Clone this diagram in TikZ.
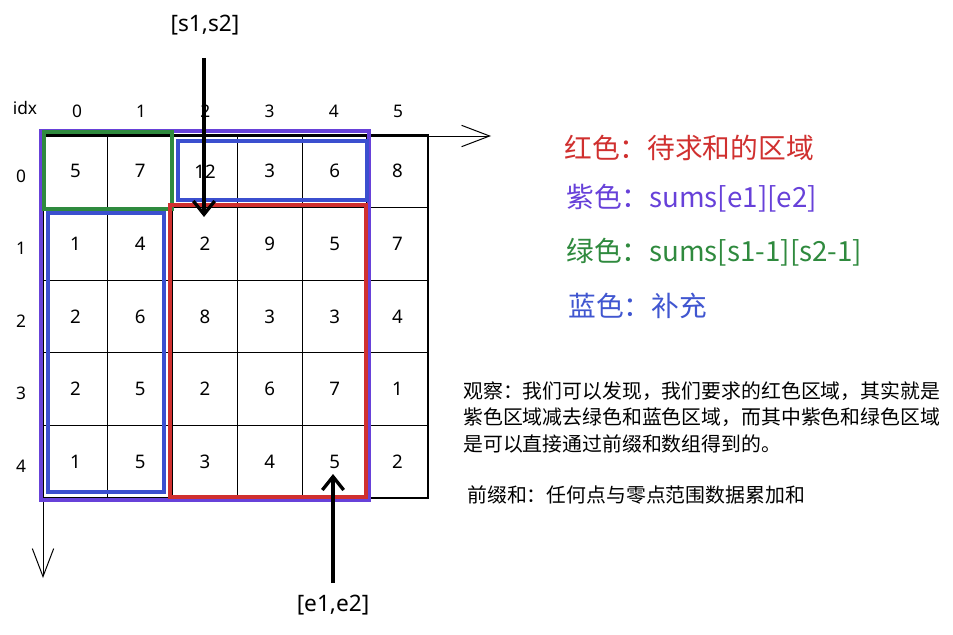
\documentclass[tikz,border=0pt]{standalone}
\usepackage{fontspec}
\setmainfont{Noto Sans}
\newfontfamily\cjk{Noto Sans CJK SC}
\usetikzlibrary{arrows.meta}
\definecolor{cred}{HTML}{D0302F}
\definecolor{cpurple}{HTML}{6741D9}
\definecolor{cgreen}{HTML}{2F8A3E}
\definecolor{cblue}{HTML}{3B4FCF}
\definecolor{tred}{HTML}{D0302F}
\definecolor{tpurple}{HTML}{6741D9}
\definecolor{tgreen}{HTML}{2F8A3E}
\definecolor{tblue}{HTML}{4056D0}
\tikzset{
  cell/.style={draw=black, line width=0.85pt, minimum height=54.45pt, inner sep=0pt, font=\fontsize{14}{16}\selectfont},
  idxlab/.style={inner sep=0pt, font=\fontsize{13}{15}\selectfont},
  axis/.style={line width=0.75pt, -{Straight Barb[length=21pt, width=16pt, line width=0.75pt]}},
  pointer/.style={line width=3pt, -{Straight Barb[length=10pt, width=16pt, line width=2.5pt]}},
  region/.style={line width=2.4pt},
  bigtxt/.style={anchor=west, inner sep=0pt, font=\cjk\fontsize{20.8}{24}\selectfont},
  bodytxt/.style={anchor=north west, inner sep=0pt, align=left, font=\cjk\fontsize{14.9}{19.9}\selectfont},
  ptrlab/.style={inner sep=0pt, font=\fontsize{17}{20}\selectfont}
}
\newcommand{\gridrow}[3]{%
  \foreach \v [count=\c from 0] in {#3} {
    \ifnum\c=5
      \node[cell, minimum width=45.75pt] (c#1\c) at (397.5,#2) {\v};
    \else
      \node[cell, minimum width=48.6pt] (c#1\c) at ({75.4+64.8*\c},#2) {\v};
    \fi
  }}
\begin{document}
\begin{tikzpicture}[x=0.75pt,y=-0.75pt]
\useasboundingbox (0,0) rectangle (953,635);
% cells
\gridrow{0}{171.3}{5,7,12,3,6,8}
\gridrow{1}{243.9}{1,4,2,9,5,7}
\gridrow{2}{316.5}{2,6,8,3,3,4}
\gridrow{3}{389.1}{2,5,2,6,7,1}
\gridrow{4}{461.7}{1,5,3,4,5,2}
% index labels
\node[idxlab] (idx) at (25,108) {idx};
\foreach \c in {0,...,5} \node[idxlab] (h\c) at ({77+64.2*\c},111) {\c};
\foreach \r in {0,...,4} \node[idxlab] (r\r) at (21,{176+72.6*\r}) {\r};
% axes
\coordinate (origin) at (43,136);
\coordinate (xend) at (491,136);
\coordinate (yend) at (43,578);
\draw[axis] (origin) -- (xend);
\draw[axis] (origin) -- (yend);
% regions
\draw[region, cpurple, line width=3.1pt] (41,131) rectangle (369,500);
\draw[region, cgreen] (44,132) rectangle (172,209);
\draw[region, cred] (170,205) rectangle (366,497);
\draw[region, cblue] (178,141) rectangle (367,200);
\draw[region, cblue] (48,213) rectangle (164,492);
% pointers
\node[ptrlab] (slab) at (205,25) {[s1,s2]};
\coordinate (stail) at (204,58);
\coordinate (shead) at (204,217);
\draw[pointer] (stail) -- (shead);
\node[ptrlab] (elab) at (333,605) {[e1,e2]};
\coordinate (etail) at (333,583);
\coordinate (ehead) at (333,474);
\draw[pointer] (etail) -- (ehead);
% legend
\node[bigtxt, text=tred] (lred) at (564,148) {红色：待求和的区域};
\node[bigtxt, text=tpurple] (lpurple) at (566,198) {紫色：sums[e1][e2]};
\node[bigtxt, text=tgreen] (lgreen) at (566,252) {绿色：sums[s1-1][s2-1]};
\node[bigtxt, text=tblue] (lblue) at (568,306) {蓝色：补充};
% notes
\node[bodytxt] (obs) at (463,381) {观察：我们可以发现，我们要求的红色区域，其实就是\\紫色区域减去绿色和蓝色区域，而其中紫色和绿色区域\\是可以直接通过前缀和数组得到的。};
\node[bodytxt] (pre) at (467,485) {前缀和：任何点与零点范围数据累加和};
\end{tikzpicture}
\end{document}
